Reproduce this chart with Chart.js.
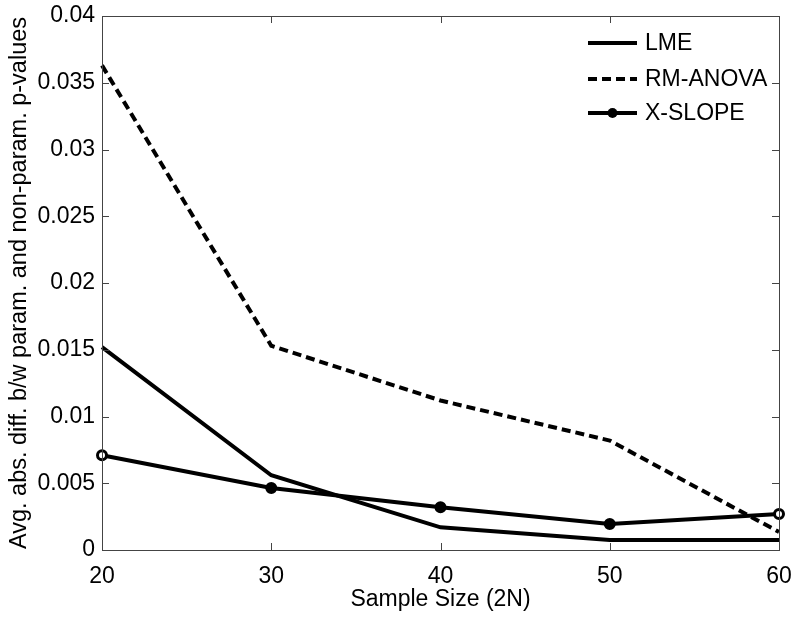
<!DOCTYPE html>
<html>
<head>
<meta charset="utf-8">
<script src="https://cdn.jsdelivr.net/npm/chart.js@4/dist/chart.umd.min.js"></script>
<style>
html,body{margin:0;padding:0;background:#fff;}
#wrap{width:800px;height:623px;}
</style>
</head>
<body>
<div id="wrap"><canvas id="c" width="800" height="623"></canvas></div>
<script>
const sampleSizes = [20, 30, 40, 50, 60];
const lmeValues = [0.0152, 0.0056, 0.0017, 0.00075, 0.00075];
const rmAnovaValues = [0.0363, 0.0153, 0.0112, 0.0082, 0.00135];
const xSlopeValues = [0.0071, 0.00465, 0.0032, 0.00195, 0.0027];
const seriesLabels = ['LME', 'RM-ANOVA', 'X-SLOPE'];
const xTicks = [20, 30, 40, 50, 60];
const yTicks = [0, 0.005, 0.01, 0.015, 0.02, 0.025, 0.03, 0.035, 0.04];

const FONT = '"Liberation Sans", Arial, Helvetica, sans-serif';

function pts(vals){ return sampleSizes.map((x,i)=>({x:x, y:vals[i]})); }

const frameTicks = {
  id: 'frameTicks',
  afterDatasetsDraw(chart){
    const {ctx, chartArea:a, scales:{x, y}} = chart;
    ctx.save();
    ctx.strokeStyle = '#444';
    ctx.lineWidth = 1;
    ctx.beginPath();
    const L = 7;
    xTicks.forEach(v=>{
      const px = Math.round(x.getPixelForValue(v))+0.5;
      ctx.moveTo(px, a.bottom); ctx.lineTo(px, a.bottom-L);
      ctx.moveTo(px, a.top); ctx.lineTo(px, a.top+L);
    });
    yTicks.forEach(v=>{
      const py = Math.round(y.getPixelForValue(v))+0.5;
      ctx.moveTo(a.left, py); ctx.lineTo(a.left+L, py);
      ctx.moveTo(a.right, py); ctx.lineTo(a.right-L, py);
    });
    ctx.stroke();
    ctx.strokeRect(Math.round(a.left)+0.5, Math.round(a.top)+0.5, Math.round(a.right-a.left), Math.round(a.bottom-a.top));
    ctx.restore();
  },
  afterDraw(chart){
    const ctx = chart.ctx;
    const x0 = 588, x1 = 637, tx = 645;
    const ys = [43, 79, 113];
    ctx.save();
    chart.data.datasets.forEach((ds,i)=>{
      const yy = ys[i];
      ctx.strokeStyle = '#000';
      ctx.lineWidth = ds.borderWidth;
      ctx.setLineDash(ds.borderDash || []);
      ctx.beginPath(); ctx.moveTo(x0, yy); ctx.lineTo(x1, yy); ctx.stroke();
      ctx.setLineDash([]);
      if (ds.pointRadius > 0){
        ctx.fillStyle = '#000';
        ctx.beginPath(); ctx.arc((x0+x1)/2, yy, 5, 0, Math.PI*2); ctx.fill();
      }
      ctx.fillStyle = '#000';
      ctx.font = '23px ' + FONT;
      ctx.textBaseline = 'middle';
      ctx.textAlign = 'left';
      ctx.fillText(ds.label, tx, yy+1);
    });
    ctx.restore();
  }
};

new Chart(document.getElementById('c'), {
  type: 'line',
  data: {
    datasets: [
      {label: seriesLabels[0], data: pts(lmeValues), borderColor:'#000', borderWidth:4, pointRadius:0, fill:false, tension:0, clip:false},
      {label: seriesLabels[1], data: pts(rmAnovaValues), borderColor:'#000', borderWidth:4, borderDash:[9,5], pointRadius:0, fill:false, tension:0, clip:false},
      {label: seriesLabels[2], data: pts(xSlopeValues), borderColor:'#000', borderWidth:4, pointRadius:4.5, pointBorderWidth:3,
        pointBorderColor:'#000', pointBackgroundColor:['#fff','#000','#000','#000','#fff'], fill:false, tension:0, clip:false}
    ]
  },
  options: {
    responsive: false,
    animation: false,
    devicePixelRatio: 1,
    layout: {padding: {top: 16, right: 21, left: 0, bottom: 0}},
    plugins: {legend: {display:false}, tooltip: {enabled:false}},
    scales: {
      x: {
        type: 'linear', min: 20, max: 60,
        afterBuildTicks(s){ s.ticks = xTicks.map(v=>({value:v})); },
        afterFit(s){ s.height = 73; s.paddingLeft = 0; s.paddingRight = 0; },
        grid: {display:false, tickLength:0}, border: {display:false},
        ticks: {color:'#000', font:{family:FONT, size:23}, padding: 13, maxRotation:0,
          callback: v => String(v)},
        title: {display:true, text:'Sample Size (2N)', color:'#000', font:{family:FONT, size:23}, padding:{top:0, bottom:10}}
      },
      y: {
        type: 'linear', min: 0, max: 0.04,
        afterBuildTicks(s){ s.ticks = yTicks.map(v=>({value:v})); },
        afterFit(s){ s.width = 102; s.paddingTop = 0; s.paddingBottom = 0; },
        grid: {display:false, tickLength:0}, border: {display:false},
        ticks: {color:'#000', font:{family:FONT, size:23}, padding: 7,
          callback: v => String(parseFloat(v.toFixed(4)))},
        title: {display:true, text:'Avg. abs. diff. b/w param. and non-param. p-values', color:'#000', font:{family:FONT, size:23.5}, padding:{top:5, bottom:0}}
      }
    }
  },
  plugins: [frameTicks]
});
</script>
</body>
</html>
